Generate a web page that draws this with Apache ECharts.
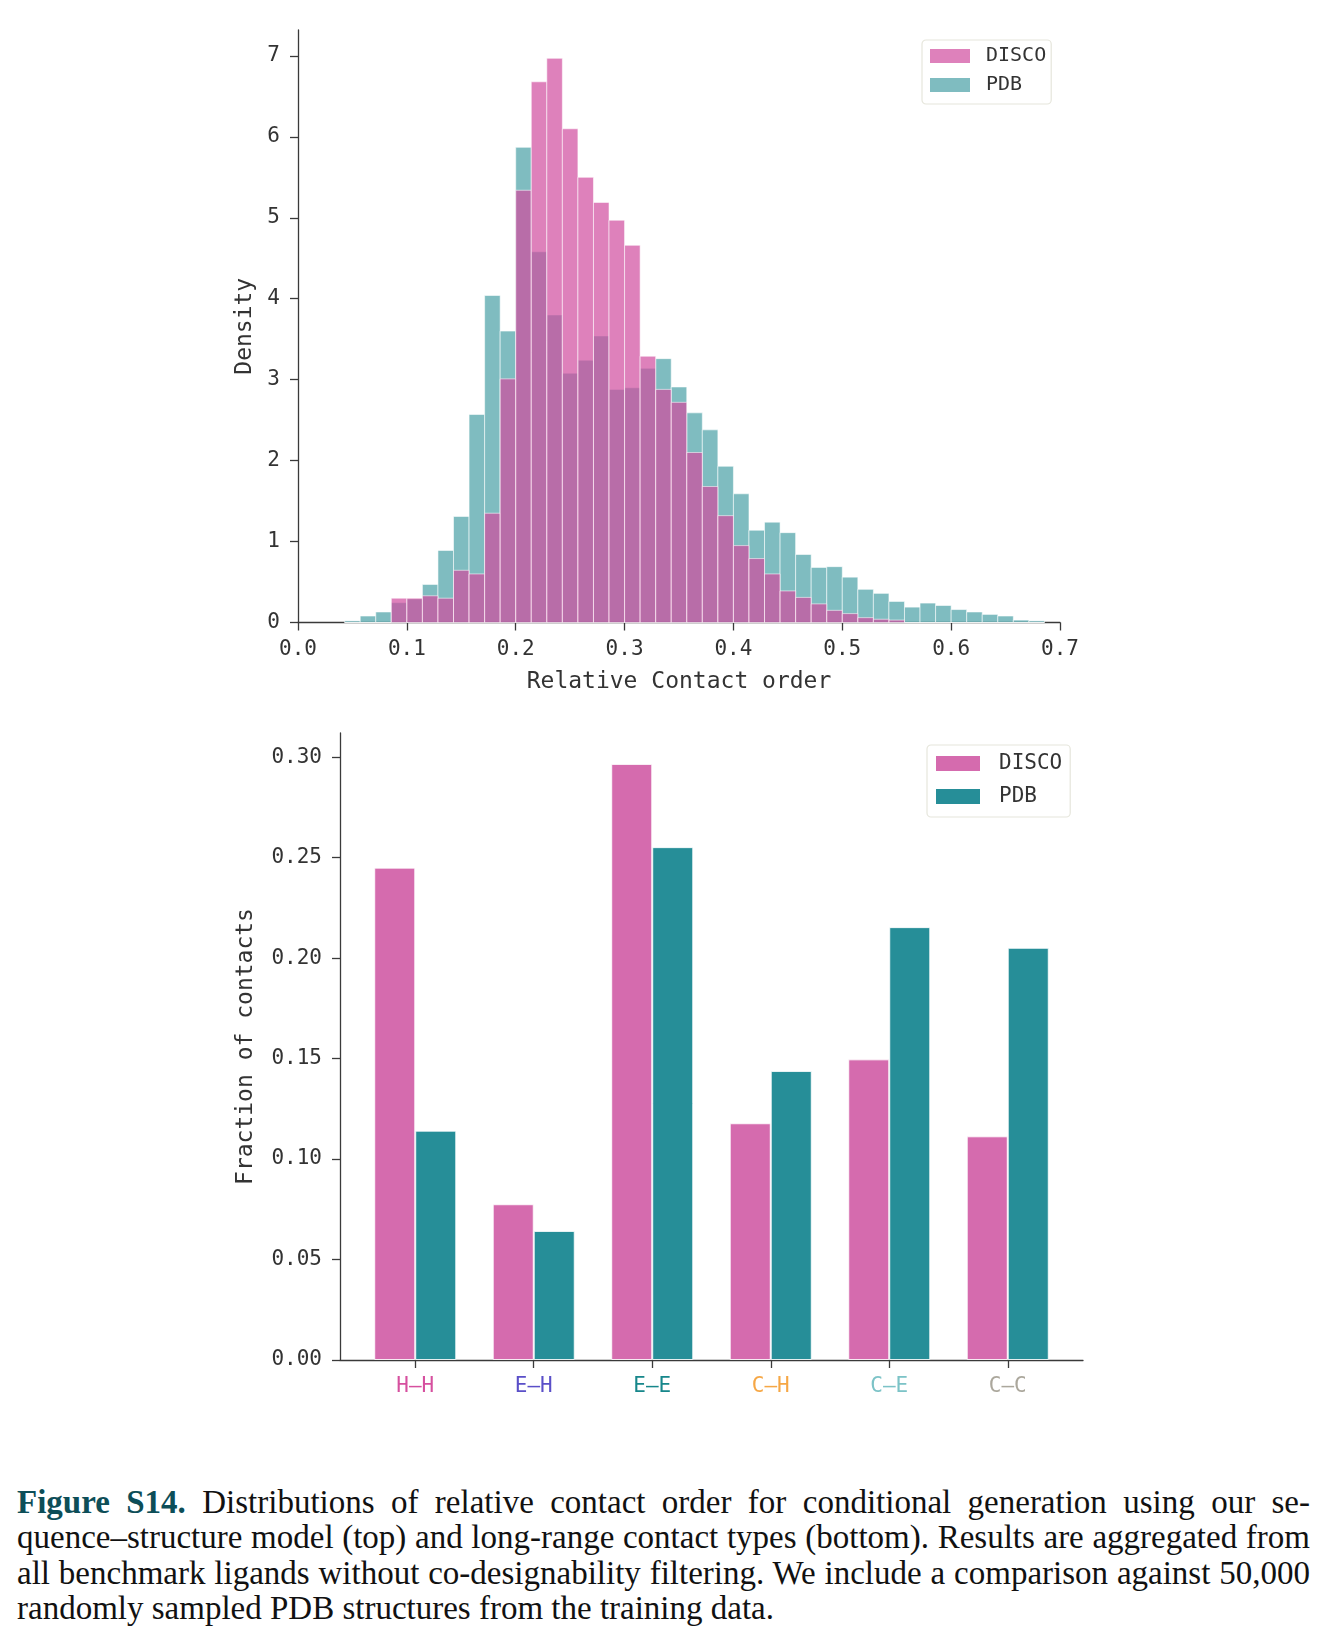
<!DOCTYPE html>
<html>
<head>
<meta charset="utf-8">
<title>Figure S14</title>
<script src="https://cdn.jsdelivr.net/npm/echarts@6.0.0/dist/echarts.min.js"></script>
<style>
  html, body { margin: 0; padding: 0; background: #fff; }
  #chart { position: absolute; left: 0; top: 0; width: 1326px; height: 1440px; }
  #caption {
    position: absolute; left: 17px; top: 1485px; width: 1293px;
    font-family: 'Liberation Serif', serif; font-size: 33px; line-height: 35.4px; color: #111;
  }
  #caption div { text-align: justify; text-align-last: justify; white-space: nowrap; }
  #caption div.last { text-align-last: left; }
  #caption b { color: #0d4e58; }
</style>
</head>
<body>
<div id="chart"></div>
<div id="caption">
  <div><b>Figure S14.</b> Distributions of relative contact order for conditional generation using our se-</div>
  <div>quence–structure model (top) and long-range contact types (bottom). Results are aggregated from</div>
  <div>all benchmark ligands without co-designability filtering. We include a comparison against 50,000</div>
  <div class="last">randomly sampled PDB structures from the training data.</div>
</div>
<script>
// histogram (top): bins of width 1/70, first non-empty bin starts at 3/70
const binWidth = 1 / 70
const firstBin = 3
const discoDensity = [
  0, 0, 0, 0.30, 0.30, 0.33, 0.30, 0.645, 0.60, 1.35,
  3.01, 5.34, 6.68, 6.97, 6.10, 5.50, 5.19, 4.97, 4.66, 3.29,
  2.88, 2.72, 2.10, 1.68, 1.32, 0.95, 0.79, 0.60, 0.39, 0.31,
  0.23, 0.15, 0.11, 0.06, 0.04, 0.03, 0, 0, 0, 0,
  0, 0, 0, 0, 0
]
const pdbDensity = [
  0.02, 0.08, 0.13, 0.245, 0.29, 0.47, 0.89, 1.31, 2.57, 4.04,
  3.60, 5.87, 4.58, 3.80, 3.08, 3.24, 3.54, 2.88, 2.90, 3.14,
  3.26, 2.91, 2.59, 2.38, 1.93, 1.59, 1.14, 1.24, 1.11, 0.84,
  0.68, 0.69, 0.56, 0.41, 0.36, 0.26, 0.19, 0.24, 0.21, 0.16,
  0.13, 0.10, 0.08, 0.03, 0.02
]
const densityXTicks = [0, 0.1, 0.2, 0.3, 0.4, 0.5, 0.6, 0.7]
const densityYTicks = [0, 1, 2, 3, 4, 5, 6, 7]

// bar chart (bottom)
const contactTypes = ['H–H', 'E–H', 'E–E', 'C–H', 'C–E', 'C–C']
const discoFraction = [0.245, 0.0775, 0.2966, 0.1178, 0.1496, 0.1113]
const pdbFraction = [0.1141, 0.0642, 0.2552, 0.1438, 0.2154, 0.2051]
const fractionYTicks = [0, 0.05, 0.10, 0.15, 0.20, 0.25, 0.30]
const contactTicks = [0, 1, 2, 3, 4, 5]

const labelColors = ['#d6509f', '#5a4fc8', '#17878b', '#f6a745', '#7cc3c7', '#aba79c']

const mono = 'DejaVu Sans Mono'
const ink = '#333'
const spine = { lineStyle: { color: '#3a3a3a', width: 1.3 } }
const tick = (vals) => ({ show: true, length: 8, customValues: vals, lineStyle: { color: '#3a3a3a', width: 1.3 } })

const toBins = (arr) => arr.map((v, i) => {
  const lo = (firstBin + i) * binWidth
  return [lo, lo + binWidth, v]
})

const histRender = (fill) => (params, api) => {
  const top = api.coord([api.value(0), api.value(2)])
  const bot = api.coord([api.value(1), 0])
  return {
    type: 'rect',
    shape: { x: top[0], y: top[1], width: bot[0] - top[0], height: bot[1] - top[1] },
    style: { fill: fill, stroke: '#fff', lineWidth: 0.8, opacity: 0.7 }
  }
}

const rich = {}
labelColors.forEach((c, i) => { rich['t' + i] = { color: c, fontFamily: mono, fontSize: 21 } })

const chart = echarts.init(document.getElementById('chart'))

chart.setOption({
  animation: false,
  textStyle: { fontFamily: mono },
  grid: [
    { left: 298, top: 30, width: 762, height: 592.5 },
    { left: 340, top: 733, width: 743, height: 627 }
  ],
  legend: [{
    data: [
      { name: 'DISCO', itemStyle: { color: 'rgba(208,76,158,0.7)' } },
      { name: 'PDB', itemStyle: { color: 'rgba(72,159,165,0.7)' } }
    ],
    orient: 'vertical', left: 922, top: 40,
    icon: 'rect', itemWidth: 40, itemHeight: 14, itemGap: 9,
    padding: [6, 5, 9, 8],
    backgroundColor: '#fff', borderColor: '#e6e6dc', borderWidth: 1.2, borderRadius: 4,
    textStyle: { fontFamily: mono, fontSize: 20, lineHeight: 20, color: ink, padding: [0, 0, 0, 11] },
    selectedMode: false
  }, {
    data: [
      { name: 'DISCO', itemStyle: { color: '#d56bae' } },
      { name: 'PDB', itemStyle: { color: '#268e98' } }
    ],
    orient: 'vertical', left: 927, top: 745,
    icon: 'rect', itemWidth: 44, itemHeight: 15, itemGap: 12,
    padding: [8, 8, 10, 9],
    backgroundColor: '#fff', borderColor: '#e6e6dc', borderWidth: 1.2, borderRadius: 4,
    textStyle: { fontFamily: mono, fontSize: 21, lineHeight: 21, color: ink, padding: [0, 0, 0, 14] },
    selectedMode: false
  }],
  xAxis: [{
    gridIndex: 0, type: 'value', min: 0, max: 0.7,
    name: 'Relative Contact order', nameLocation: 'middle', nameGap: 48,
    nameTextStyle: { fontFamily: mono, fontSize: 23, color: ink },
    axisLine: { onZero: false, ...spine }, axisTick: tick(densityXTicks),
    axisLabel: { customValues: densityXTicks, formatter: (v) => v.toFixed(1), margin: 17, fontSize: 21, color: ink, fontFamily: mono },
    splitLine: { show: false }
  }, {
    gridIndex: 1, type: 'value', min: -0.635, max: 5.635,
    axisLine: { onZero: false, ...spine }, axisTick: tick(contactTicks),
    axisLabel: {
      customValues: contactTicks, margin: 16, rich: rich,
      formatter: (v) => '{t' + v + '|' + contactTypes[v] + '}'
    },
    splitLine: { show: false }
  }],
  yAxis: [{
    gridIndex: 0, type: 'value', min: 0, max: 7.32,
    name: 'Density', nameLocation: 'middle', nameGap: 40,
    nameTextStyle: { fontFamily: mono, fontSize: 23, color: ink },
    axisLine: { show: true, onZero: false, ...spine }, axisTick: tick(densityYTicks),
    axisLabel: { customValues: densityYTicks, margin: 18, fontSize: 21, color: ink, fontFamily: mono },
    splitLine: { show: false }
  }, {
    gridIndex: 1, type: 'value', min: 0, max: 0.312,
    name: 'Fraction of contacts', nameLocation: 'middle', nameGap: 82,
    nameTextStyle: { fontFamily: mono, fontSize: 23, color: ink },
    axisLine: { show: true, onZero: false, ...spine }, axisTick: tick(fractionYTicks),
    axisLabel: { customValues: fractionYTicks, formatter: (v) => v.toFixed(2), margin: 18, fontSize: 21, color: ink, fontFamily: mono },
    splitLine: { show: false }
  }],
  series: [{
    name: 'PDB', type: 'custom', xAxisIndex: 0, yAxisIndex: 0,
    renderItem: histRender('rgb(72,159,165)'),
    encode: { x: [0, 1], y: 2 },
    itemStyle: { color: 'rgba(72,159,165,0.7)' },
    data: toBins(pdbDensity)
  }, {
    name: 'DISCO', type: 'custom', xAxisIndex: 0, yAxisIndex: 0,
    renderItem: histRender('rgb(208,76,158)'),
    encode: { x: [0, 1], y: 2 },
    itemStyle: { color: 'rgba(208,76,158,0.7)' },
    data: toBins(discoDensity)
  }, {
    name: 'DISCO', type: 'bar', xAxisIndex: 1, yAxisIndex: 1,
    barWidth: 41, barGap: '0%',
    itemStyle: { color: '#d56bae', borderColor: 'rgba(255,255,255,0.8)', borderWidth: 1 },
    data: discoFraction.map((v, i) => [i, v])
  }, {
    name: 'PDB', type: 'bar', xAxisIndex: 1, yAxisIndex: 1,
    barWidth: 41, barGap: '0%',
    itemStyle: { color: '#268e98', borderColor: 'rgba(255,255,255,0.8)', borderWidth: 1 },
    data: pdbFraction.map((v, i) => [i, v])
  }]
})
</script>
</body>
</html>
